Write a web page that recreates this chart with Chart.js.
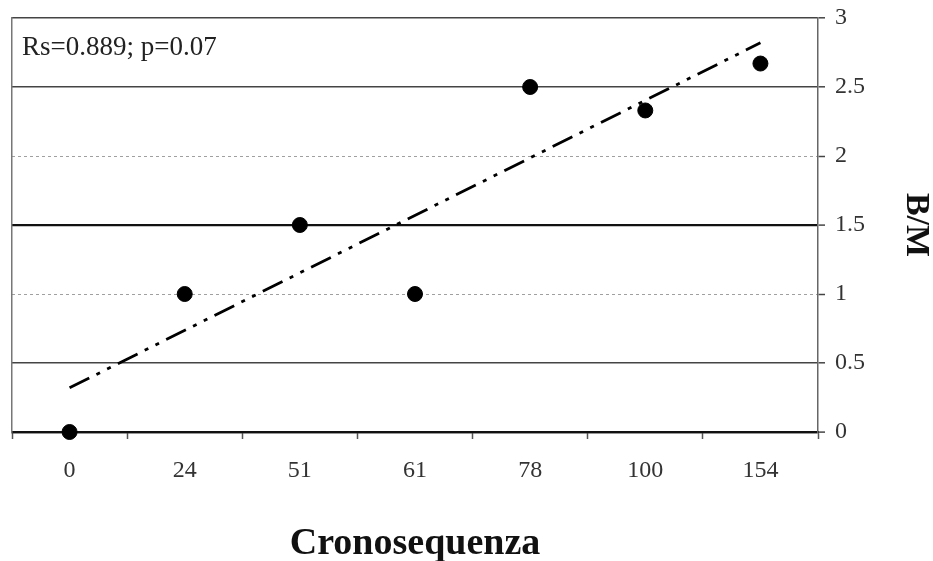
<!DOCTYPE html>
<html>
<head>
<meta charset="utf-8">
<script src="https://cdn.jsdelivr.net/npm/chart.js@4"></script>
<style>
  html, body { margin: 0; padding: 0; background: #fff; }
  #wrap { width: 933px; height: 561px; }
</style>
</head>
<body>
<div id="wrap"><canvas id="bmChart"></canvas></div>
<script>
// data
const categories = ["0", "24", "51", "61", "78", "100", "154"];
const bmValues = [0, 1, 1.5, 1, 2.5, 2.33, 2.67];
// trend line end points (only first and last category)
const trendValues = [0.32, null, null, null, null, null, 2.82];
const yTicks = [0, 0.5, 1, 1.5, 2, 2.5, 3];
const note = "Rs=0.889; p=0.07";

const serif = "'Liberation Serif', 'Times New Roman', serif";

// grid line looks per tick value
function gridColor(v) {
  if (v === 1 || v === 2) return "#a0a0a0";
  if (v === 1.5 || v === 0) return "#111";
  return "#444";
}
function gridWidth(v) {
  if (v === 1 || v === 2) return 1;
  if (v === 1.5 || v === 0) return 2.2;
  return 1.6;
}

const notePlugin = {
  id: "note",
  afterDraw(chart) {
    const ctx = chart.ctx;
    ctx.save();
    ctx.font = "27px " + serif;
    ctx.fillStyle = "#222";
    ctx.textBaseline = "middle";
    ctx.fillText(note, chart.chartArea.left + 10, chart.chartArea.top + 30);
    ctx.restore();
  }
};

new Chart(document.getElementById("bmChart"), {
  type: "line",
  data: {
    labels: categories,
    datasets: [{
      label: "B/M",
      data: bmValues,
      showLine: false,
      pointRadius: 7.5,
      pointHoverRadius: 7.5,
      pointBackgroundColor: "#000",
      pointBorderColor: "#000",
      clip: false,
      order: 0
    }, {
      label: "trend",
      data: trendValues,
      spanGaps: true,
      borderColor: "#000",
      borderWidth: 2.8,
      borderDash: [22, 8, 4, 8, 4, 8],
      pointRadius: 0,
      fill: false,
      order: 1
    }]
  },
  options: {
    responsive: true,
    maintainAspectRatio: false,
    animation: false,
    layout: { padding: { left: 12, top: 18, right: 0, bottom: 0 } },
    plugins: {
      legend: { display: false },
      tooltip: { enabled: false }
    },
    scales: {
      x: {
        type: "category",
        offset: true,
        grid: {
          offset: true,
          drawOnChartArea: false,
          tickLength: 7,
          tickColor: "#555",
          tickWidth: 1.5
        },
        border: { display: true, color: "#111", width: 2.2 },
        ticks: {
          color: "#333",
          padding: 17,
          font: { family: serif, size: 24 }
        },
        title: {
          display: true,
          text: "Cronosequenza",
          color: "#111",
          font: { family: serif, size: 38, weight: "bold", lineHeight: 0.8 },
          padding: { top: 0, bottom: 2 }
        },
        afterFit(scale) {
          scale.height = 129;
          scale.paddingLeft = 0;
          scale.paddingRight = 0;
        }
      },
      y: {
        position: "right",
        min: 0,
        max: 3,
        afterBuildTicks(scale) { scale.ticks = yTicks.map(v => ({ value: v })); },
        grid: {
          color: c => gridColor(c.tick ? c.tick.value : 0),
          lineWidth: c => gridWidth(c.tick ? c.tick.value : 0),
          tickLength: 7,
          tickColor: "#444",
          tickWidth: 1.5
        },
        border: {
          display: true,
          color: "#666",
          width: 1.5,
          dash: c => (c.tick && (c.tick.value === 1 || c.tick.value === 2)) ? [3, 3] : []
        },
        ticks: {
          color: "#333",
          padding: 10,
          font: { family: serif, size: 24 },
          callback: v => String(v)
        },
        title: {
          display: true,
          text: "B/M",
          color: "#111",
          font: { family: serif, size: 34, weight: "bold" },
          padding: { top: -3, bottom: 0 }
        },
        afterFit(scale) {
          scale.width = 115;
          scale.paddingTop = 0;
          scale.paddingBottom = 0;
        }
      },
      yLeft: {
        position: "left",
        min: 0,
        max: 3,
        grid: { display: false },
        ticks: { display: false },
        border: { display: true, color: "#777", width: 1.5 },
        afterFit(scale) {
          scale.width = 0;
          scale.paddingTop = 0;
          scale.paddingBottom = 0;
        }
      }
    }
  },
  plugins: [notePlugin]
});
</script>
</body>
</html>
